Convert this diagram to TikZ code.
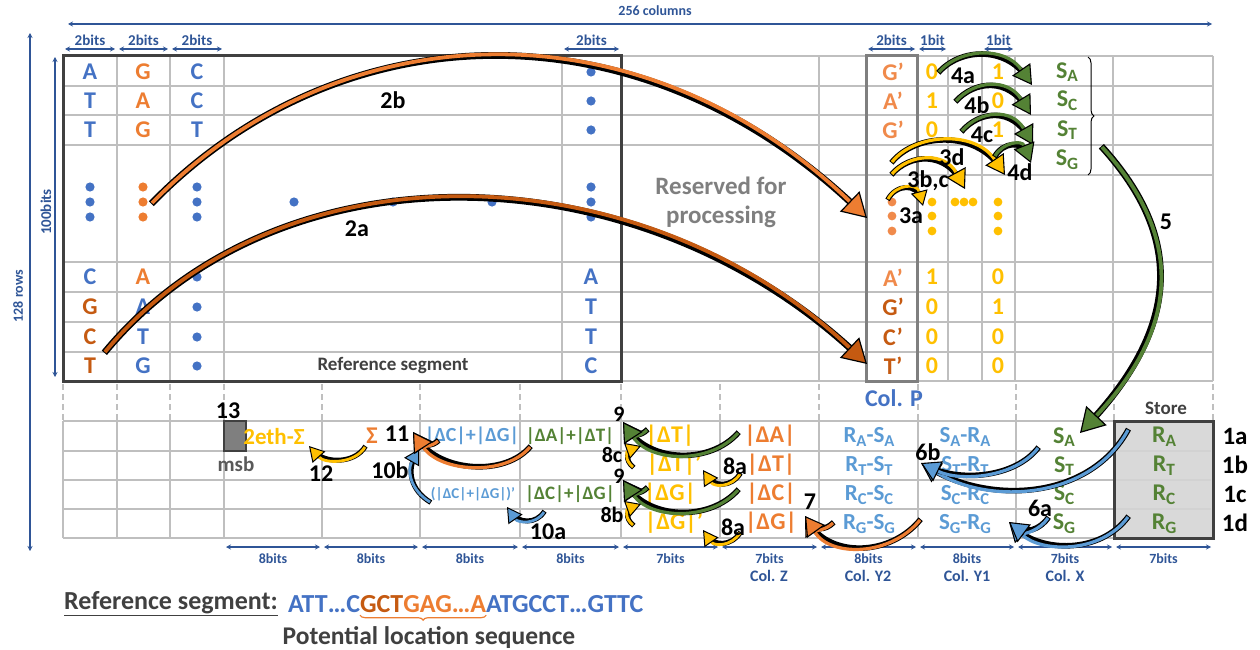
\documentclass[tikz,border=0pt]{standalone}
\usepackage{fontspec}
\setmainfont{Carlito}
\usetikzlibrary{arrows.meta,decorations.pathreplacing}
\definecolor{cblue}{HTML}{4472C4}
\definecolor{dblue}{HTML}{2F5597}
\definecolor{corange}{HTML}{ED7D31}
\definecolor{dorange}{HTML}{C55A11}
\definecolor{lorange}{HTML}{F08A4B}
\definecolor{cyellow}{HTML}{FFC000}
\definecolor{cgreen}{HTML}{548235}
\definecolor{lblue}{HTML}{5B9BD5}
\definecolor{cgray}{HTML}{7F7F7F}
\definecolor{mgray}{HTML}{595959}
\definecolor{dgray}{HTML}{404040}
\definecolor{gridc}{HTML}{BFBFBF}
\definecolor{storefill}{HTML}{D9D9D9}
\newcommand{\sbs}[1]{\raisebox{-0.32ex}{\scalebox{0.72}{#1}}}
\newcommand{\fsz}[1]{\fontsize{#1}{#1}\selectfont\bfseries}
\tikzset{
  tx/.style={inner sep=0pt, outer sep=0pt, font=\fsz{#1}},
  gl/.style={draw=gridc, line width=2.5pt},
  gd/.style={draw=gridc, line width=2.5pt, dash pattern=on 6pt off 4pt},
  dimarr/.style={draw=dblue, line width=1.3pt, {Stealth[length=5pt,width=5pt]}-{Stealth[length=5pt,width=5pt]}},
  dimlab/.style={tx=14, text=dblue},
  lab/.style={tx=24, text=black},
  bigA/.style={draw=#1, line width=3.8pt,
    preaction={-, draw=black, line width=6.8pt, shorten >=12pt, shorten <=-1pt},
    -{Triangle[length=24pt, width=28pt, fill=#1, color=black, line width=1.2pt]}},
  midA/.style={draw=#1, line width=3.2pt,
    preaction={-, draw=black, line width=5.6pt, shorten >=9pt, shorten <=-1pt},
    -{Triangle[length=19pt, width=22pt, fill=#1, color=black, line width=1.1pt]}},
  smlA/.style={draw=#1, line width=2.8pt,
    preaction={-, draw=black, line width=5pt, shorten >=7pt, shorten <=-1pt},
    -{Triangle[length=15pt, width=17pt, fill=#1, color=black, line width=1pt]}},
}
\begin{document}
\begin{tikzpicture}[x=1pt,y=-1pt]
\useasboundingbox (0,0) rectangle (1260,650);
\fill[white] (0,0) rectangle (1260,650);

% ---------- top grid ----------
\foreach \x in {117,170,224,562,819,948,982,1015,1113,1213} \draw[gl] (\x,56) -- (\x,381);
\foreach \y in {86,115,145,262,292,322,352} \draw[gl] (63,\y) -- (1213,\y);
\draw[gl] (621,56) -- (1213,56);
\draw[gl] (621,381) -- (1213,381);
\draw[gl] (819,175) -- (1213,175);
% dashed connectors
\foreach \x in {63,117,170,224,322,420,520,621,720,819,918,1016,1114,1213} \draw[gd] (\x,384) -- (\x,420);
% bottom table
\foreach \y in {421,451,480,509,538} \draw[gl] (63,\y) -- (1114,\y);
\foreach \x in {63,117,170,224,322,420,520,621,720,819,918,1016,1114} \draw[gl] (\x,421) -- (\x,538);
\draw[draw=dgray, line width=3pt, fill=storefill] (1114,421) rectangle (1213,538);
\foreach \y in {451,480,509} \draw[draw=gridc!70!white, line width=2pt] (1116,\y) -- (1211,\y);
% boxes
\draw[draw=dgray, line width=3pt] (63,56) rectangle (621,381);
\draw[draw=cgray, line width=3pt] (866,56) rectangle (917,381);
\draw[fill=cgray, draw=dgray, line width=1.5pt] (224,421) rectangle (246,451);

% ---------- dimension arrows ----------
\draw[dimarr] (68,24) -- (1212,24);
\node[dimlab] (cols) at (655,11) {256 columns};
\draw[dimarr] (30,33) -- (30,551);
\node[tx=14, text=dblue, rotate=90] (rows) at (18,296) {128 rows};
\draw[dimarr] (55,57) -- (55,377);
\node[tx=15, text=dblue, rotate=90] (hbits) at (46,212) {100bits};
\foreach \a/\b/\l [count=\i] in {63/117/2bits,117/170/2bits,170/224/2bits,562/621/2bits,866/917/2bits,917/948/1bit,982/1015/1bit}{
  \draw[dimarr] (\a+2,49) -- (\b-2,49);
  \node[tx=15, text=dblue] (td\i) at ({(\a+\b)/2},40) {\l};
}
\foreach \a/\b/\l [count=\i] in {224/322/8bits,322/420/8bits,420/520/8bits,520/621/8bits,621/720/7bits,720/819/7bits,819/918/8bits,918/1016/8bits,1016/1114/7bits,1114/1213/7bits}{
  \draw[dimarr] (\a+2,547) -- (\b-2,547);
  \node[dimlab] (bd\i) at ({(\a+\b)/2},559) {\l};
}
\node[tx=16, text=dblue] (colz) at (769,576) {Col. Z};
\node[tx=16, text=dblue] (coly2) at (868,576) {Col. Y2};
\node[tx=16, text=dblue] (coly1) at (967,576) {Col. Y1};
\node[tx=16, text=dblue] (colx) at (1065,576) {Col. X};

% ---------- top table contents ----------
\node[tx=24,text=cblue] (c1r1) at (90,72) {A};
\node[tx=24,text=cblue] (c1r2) at (90,101) {T};
\node[tx=24,text=cblue] (c1r3) at (90,130) {T};
\node[tx=24,text=cblue] (c1r5) at (90,277) {C};
\node[tx=24,text=dorange] (c1r6) at (90,307) {G};
\node[tx=24,text=dorange] (c1r7) at (90,337) {C};
\node[tx=24,text=dorange] (c1r8) at (90,366) {T};
\node[tx=24,text=corange] (c2r1) at (143,72) {G};
\node[tx=24,text=corange] (c2r2) at (143,101) {A};
\node[tx=24,text=corange] (c2r3) at (143,130) {G};
\node[tx=24,text=corange] (c2r5) at (143,277) {A};
\node[tx=24,text=cblue] (c2r6) at (143,307) {A};
\node[tx=24,text=cblue] (c2r7) at (143,337) {T};
\node[tx=24,text=cblue] (c2r8) at (143,366) {G};
\node[tx=24,text=cblue] (c3r1) at (197,72) {C};
\node[tx=24,text=cblue] (c3r2) at (197,101) {C};
\node[tx=24,text=cblue] (c3r3) at (197,130) {T};
\node[tx=24,text=cblue] (c8r5) at (591,277) {A};
\node[tx=24,text=cblue] (c8r6) at (591,307) {T};
\node[tx=24,text=cblue] (c8r7) at (591,337) {T};
\node[tx=24,text=cblue] (c8r8) at (591,366) {C};
\foreach \y in {187,202,217}{
  \fill[cblue] (90,\y) circle (4.6);
  \fill[corange] (143,\y) circle (4.6);
  \fill[cblue] (197,\y) circle (4.6);
  \fill[cblue] (591,\y) circle (4.6);
}
\foreach \y in {72,101,130} \fill[cblue] (591,\y) circle (4.6);
\foreach \y in {277,307,337,366} \fill[cblue] (197,\y) circle (4.6);
\foreach \x in {294,393,492} \fill[cblue] (\x,202) circle (4.6);
\node[tx=19,text=dgray] (refseg) at (393,366) {Reference segment};
\node[inner sep=0pt, text=cgray, font=\fontsize{25}{29}\selectfont\bfseries, align=center] (resv) at (721,202) {Reserved for\\processing};

% col P and bits
\node[tx=24,text=lorange] (p1) at (893,72) {G’};
\node[tx=24,text=lorange] (p2) at (893,101) {A’};
\node[tx=24,text=lorange] (p3) at (893,130) {G’};
\node[tx=24,text=lorange] (p5) at (893,278) {A’};
\node[tx=24,text=dorange] (p6) at (893,307) {G’};
\node[tx=24,text=dorange] (p7) at (893,337) {C’};
\node[tx=24,text=dorange] (p8) at (893,366) {T’};
\foreach \v/\w/\y [count=\i] in {0/1/72,1/0/101,0/1/130,1/0/277,0/1/307,0/0/337,0/0/366}{
  \node[tx=24,text=cyellow] (ba\i) at (932,\y) {\v};
  \node[tx=24,text=cyellow] (bb\i) at (998,\y) {\w};
}
\foreach \y in {202,216,231}{
  \fill[lorange] (892,\y) circle (4.4);
  \fill[cyellow] (932,\y) circle (4.4);
  \fill[cyellow] (998,\y) circle (4.4);
}
\foreach \x in {955,964,973} \fill[cyellow] (\x,202) circle (4.4);
\node[tx=24,text=cgreen] (sa) at (1067,72) {S\sbs{A}};
\node[tx=24,text=cgreen] (sc) at (1067,101) {S\sbs{C}};
\node[tx=24,text=cgreen] (st) at (1067,130) {S\sbs{T}};
\node[tx=24,text=cgreen] (sg) at (1067,160) {S\sbs{G}};
\draw[black, line width=1pt, decorate, decoration={brace, amplitude=6pt}] (1088,57) -- (1088,175);
\node[tx=24,text=cblue] (colp) at (894,398) {Col. P};

% ---------- bottom table contents ----------
\node[lab] (l13) at (228,411) {13};
\node[tx=21,text=mgray] (msb) at (236,464) {msb};
\node[tx=23,text=cyellow] (eth) at (274,437) {2eth-Σ};
\node[tx=24,text=corange] (sig) at (372,436) {Σ};
\node[tx=20,text=lblue] (cg1) at (472,436) {|ΔC|+|ΔG|};
\node[tx=19,text=cgreen] (at1) at (570,436) {|ΔA|+|ΔT|};
\node[tx=15,text=lblue] (cgp) at (473,494) {(|ΔC|+|ΔG|)’};
\node[tx=19,text=cgreen] (cg2) at (570,494) {|ΔC|+|ΔG|};
\node[tx=24,text=cyellow] (yt) at (670,436) {|ΔT|};
\node[tx=24,text=cyellow] (ytp) at (674,465) {|ΔT|’};
\node[tx=24,text=cyellow] (yg) at (670,494) {|ΔG|};
\node[tx=24,text=cyellow] (ygp) at (674,523) {|ΔG|’};
\node[tx=24,text=corange] (za) at (770,436) {|ΔA|};
\node[tx=24,text=corange] (zt) at (771,465) {|ΔT|};
\node[tx=24,text=corange] (zc) at (771,494) {|ΔC|};
\node[tx=24,text=corange] (zg) at (771,523) {|ΔG|};
\foreach \b/\y [count=\i] in {A/437,T/466,C/495,G/524}{
  \node[tx=23,text=lblue] (y2\i) at (869,\y) {R\sbs{\b}-S\sbs{\b}};
  \node[tx=23,text=lblue] (y1\i) at (965,\y) {S\sbs{\b}-R\sbs{\b}};
  \node[tx=24,text=cgreen] (x\i) at (1064,\y) {S\sbs{\b}};
  \node[tx=24,text=cgreen] (r\i) at (1164,\y) {R\sbs{\b}};
}
\node[tx=19,text=dgray] (store) at (1166,408) {Store};
\node[tx=25] (n1a) at (1235,436) {1a};
\node[tx=25] (n1b) at (1235,465) {1b};
\node[tx=25] (n1c) at (1235,494) {1c};
\node[tx=25] (n1d) at (1235,523) {1d};

% ---------- arrows ----------
\coordinate (a2bs) at (152,203); \coordinate (a2be) at (867,218);
\draw[bigA=corange] (a2bs) .. controls (340,10) and (640,0) .. (a2be);
\coordinate (a2as) at (105,352); \coordinate (a2ae) at (867,364);
\draw[bigA=dorange] (a2as) .. controls (280,140) and (640,150) .. (a2ae);
\coordinate (a5s) at (1102,147); \coordinate (a5e) at (1080,433);
\draw[bigA=cgreen] (a5s) .. controls (1187,240) and (1177,330) .. (a5e);

\coordinate (a3as) at (888,199); \coordinate (a3ae) at (923,206);
\draw[smlA=cyellow] (a3as) .. controls (896,184) and (917,183) .. (a3ae);
\coordinate (a3bs) at (892,174); \coordinate (a3be) at (965,189);
\draw[midA=cyellow] (a3bs) .. controls (910,153) and (945,152) .. (a3be);
\coordinate (a3ds) at (892,162); \coordinate (a3de) at (1005,175);
\draw[midA=cyellow] (a3ds) .. controls (915,133) and (975,130) .. (a3de);

\coordinate (a4as) at (939,72); \coordinate (a4ae) at (1032,85);
\draw[midA=cgreen] (a4as) .. controls (960,48) and (1005,46) .. (a4ae);
\coordinate (a4bs) at (956,101); \coordinate (a4be) at (1031,115);
\draw[midA=cgreen] (a4bs) .. controls (975,80) and (1008,78) .. (a4be);
\coordinate (a4cs) at (962,131); \coordinate (a4ce) at (1033,145);
\draw[midA=cgreen] (a4cs) .. controls (980,110) and (1012,108) .. (a4ce);
\coordinate (a4ds) at (995,156); \coordinate (a4de) at (1031,163);
\draw[midA=cgreen] (a4ds) .. controls (1003,142) and (1022,140) .. (a4de);

\coordinate (a6bs) at (1128,430); \coordinate (a6bt) at (1038,448); \coordinate (a6be) at (921,463);
\draw[midA=lblue] (a6bs) .. controls (1090,500) and (990,505) .. (a6be);
\draw[midA=lblue] (a6bt) .. controls (1015,478) and (960,482) .. (a6be);
\coordinate (a6as) at (1128,517); \coordinate (a6at) at (1048,518); \coordinate (a6ae) at (1009,522);
\draw[midA=lblue] (a6as) .. controls (1100,555) and (1040,552) .. (a6ae);
\draw[midA=lblue] (a6at) .. controls (1040,530) and (1025,534) .. (a6ae);
\coordinate (a7s) at (920,520); \coordinate (a7t) at (833,523); \coordinate (a7e) at (805,516);
\draw[midA=corange] (a7s) .. controls (890,557) and (830,557) .. (a7e);
\draw[midA=corange] (a7t) .. controls (825,531) and (815,530) .. (a7e);

\coordinate (a9s) at (738,433); \coordinate (a9t) at (647,430); \coordinate (a9e) at (623,422);
\draw[midA=cgreen] (a9s) .. controls (710,465) and (650,462) .. (a9e);
\draw[midA=cgreen] (a9t) .. controls (640,437) and (632,436) .. (a9e);
\coordinate (a9bs) at (738,490); \coordinate (a9bt) at (647,488); \coordinate (a9be) at (623,480);
\draw[midA=cgreen] (a9bs) .. controls (710,522) and (650,519) .. (a9be);
\draw[midA=cgreen] (a9bt) .. controls (640,495) and (632,494) .. (a9be);

\coordinate (a8as) at (740,474); \coordinate (a8ae) at (703,470);
\draw[smlA=cyellow] (a8as) .. controls (731,488) and (714,487) .. (a8ae);
\coordinate (a8bs) at (740,533); \coordinate (a8be) at (703,530);
\draw[smlA=cyellow] (a8bs) .. controls (731,547) and (714,546) .. (a8be);
\coordinate (a8cs) at (633,467); \coordinate (a8ce) at (641,446);
\draw[smlA=cyellow] (a8cs) .. controls (624,460) and (627,451) .. (a8ce);
\coordinate (a8ds) at (633,525); \coordinate (a8de) at (641,504);
\draw[smlA=cyellow] (a8ds) .. controls (624,518) and (627,509) .. (a8de);

\coordinate (a10as) at (544,512); \coordinate (a10ae) at (507,507);
\draw[smlA=lblue] (a10as) .. controls (536,525) and (518,523) .. (a10ae);
\coordinate (a10bs) at (430,502); \coordinate (a10be) at (419,449);
\draw[smlA=lblue] (a10bs) .. controls (410,490) and (407,470) .. (a10be);
\coordinate (a11s) at (530,447); \coordinate (a11t) at (438,441); \coordinate (a11e) at (413,432);
\draw[midA=corange] (a11s) .. controls (505,477) and (440,472) .. (a11e);
\draw[midA=corange] (a11t) .. controls (432,447) and (422,446) .. (a11e);
\coordinate (a12s) at (365,447); \coordinate (a12e) at (309,446);
\draw[smlA=cyellow] (a12s) .. controls (355,464) and (325,464) .. (a12e);

% ---------- arrow labels ----------
\node[lab] (l2b) at (393,100) {2b};
\node[lab] (l2a) at (357,229) {2a};
\node[lab] (l3a) at (911,216) {3a};
\node[lab] (l3bc) at (928,181) {3b,c};
\node[lab] (l3d) at (952,157) {3d};
\node[lab] (l4a) at (963,76) {4a};
\node[lab] (l4b) at (977,105) {4b};
\node[lab] (l4c) at (982,135) {4c};
\node[lab] (l4d) at (1020,172) {4d};
\node[lab] (l5) at (1166,222) {5};
\node[lab] (l6a) at (1040,508) {6a};
\node[lab] (l6b) at (928,452) {6b};
\node[lab] (l7) at (810,502) {7};
\node[lab] (l8a) at (735,466) {8a};
\node[lab] (l8a2) at (733,527) {8a};
\node[tx=22] (l8b) at (612,515) {8b};
\node[tx=22] (l8c) at (612,455) {8c};
\node[tx=22] (l9) at (619,414) {9};
\node[tx=22] (l9b) at (619,476) {9};
\node[lab] (l10a) at (548,532) {10a};
\node[lab] (l10b) at (390,470) {10b};
\node[lab] (l11) at (397,434) {11};
\node[lab] (l12) at (321,474) {12};

% ---------- bottom legend ----------
\node[tx=26,text=dgray] (refl) at (171,604) {\underline{Reference segment:}};
\node[tx=26,text=cblue,anchor=base west] (s1) at (288,612) {ATT…C};
\node[tx=26,text=dorange,anchor=base west] (s2) at (s1.base east) {GCT};
\node[tx=26,text=corange,anchor=base west] (s3) at (s2.base east) {GAG…A};
\node[tx=26,text=cblue,anchor=base west] (s4) at (s3.base east) {ATGCCT…GTTC};
\draw[corange, line width=1.2pt, decorate, decoration={brace, mirror, amplitude=5pt}] ([yshift=-3pt]s2.south west) -- ([yshift=-3pt]s3.south east);
\node[tx=25.5,text=dgray] (pls) at (429,638) {Potential location sequence};
\end{tikzpicture}
\end{document}
